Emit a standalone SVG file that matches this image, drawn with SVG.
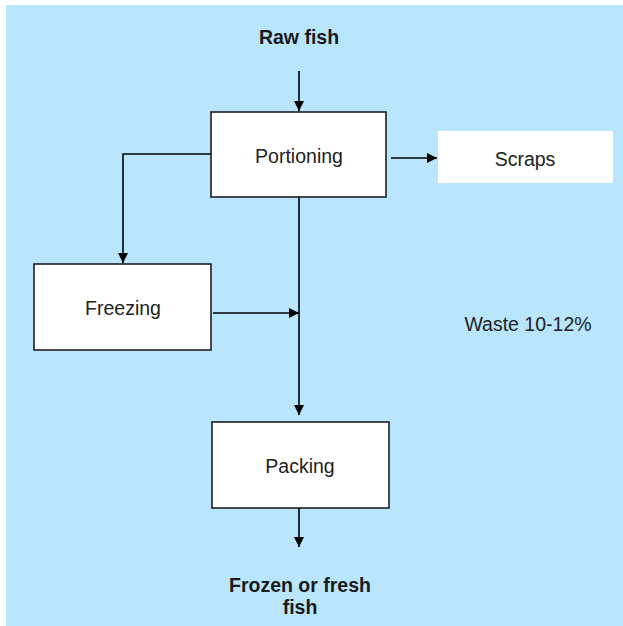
<svg xmlns="http://www.w3.org/2000/svg" width="623" height="626" viewBox="0 0 623 626">
  <style>
    .box { fill: #ffffff; stroke: #1e1e1e; stroke-width: 1.6; }
    .plain { fill: #ffffff; }
    .lbl { font-family: "Liberation Sans", Arial, sans-serif; font-size: 19.5px; fill: #222222; text-anchor: middle; }
    .bold { font-weight: bold; fill: #1a1a1a; }
    .wire { fill: none; stroke: #000000; stroke-width: 1.6; }
  </style>
  <defs>
    <marker id="arrow" viewBox="0 0 10 10" refX="10" refY="5" markerWidth="10" markerHeight="10" markerUnits="userSpaceOnUse" orient="auto">
      <path d="M0,0 L10,5 L0,10 z" fill="#000000"/>
    </marker>
  </defs>

  <rect x="0" y="0" width="623" height="626" fill="#ffffff"/>
  <rect x="6" y="5" width="617" height="621" fill="#b9e6fc"/>

  <g id="raw-fish">
    <text class="lbl bold" x="299" y="44">Raw fish</text>
  </g>

  <g id="portioning">
    <rect class="box" x="211" y="112" width="175" height="85"/>
    <text class="lbl" x="299" y="163">Portioning</text>
  </g>

  <g id="scraps">
    <rect class="plain" x="438" y="131" width="175" height="52"/>
    <text class="lbl" x="525" y="166">Scraps</text>
  </g>

  <g id="freezing">
    <rect class="box" x="34" y="264" width="177" height="86"/>
    <text class="lbl" x="123" y="315">Freezing</text>
  </g>

  <g id="waste">
    <text class="lbl" x="528" y="331">Waste 10-12%</text>
  </g>

  <g id="packing">
    <rect class="box" x="212" y="422" width="177" height="86"/>
    <text class="lbl" x="300" y="473">Packing</text>
  </g>

  <g id="frozen-or-fresh-fish">
    <text class="lbl bold" x="300" y="592">Frozen or fresh</text>
    <text class="lbl bold" x="300" y="614">fish</text>
  </g>

  <g id="connectors">
    <path class="wire" d="M299,71 L299,111" marker-end="url(#arrow)"/>
    <path class="wire" d="M391,158 L437,158" marker-end="url(#arrow)"/>
    <path class="wire" d="M211,154 L123,154 L123,263" marker-end="url(#arrow)"/>
    <path class="wire" d="M299,197 L299,415" marker-end="url(#arrow)"/>
    <path class="wire" d="M213,313 L299,313" marker-end="url(#arrow)"/>
    <path class="wire" d="M299,508 L299,547" marker-end="url(#arrow)"/>
  </g>
</svg>
